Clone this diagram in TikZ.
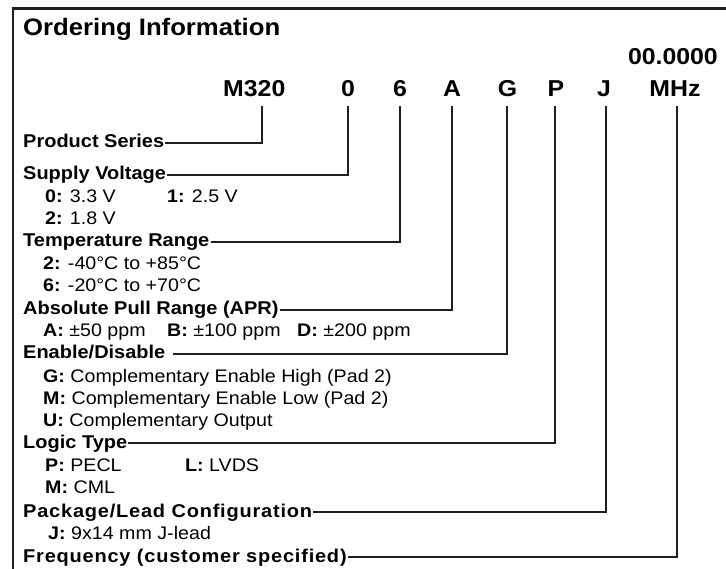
\documentclass[tikz,border=0pt]{standalone}
\usepackage{fontspec}
\setmainfont{Liberation Sans}[FakeStretch=1.08]
\begin{document}
\begin{tikzpicture}[x=1pt,y=-1pt,
  lbl/.style={font=\bfseries\fontsize{18.5}{20}\selectfont, anchor=base west, inner sep=0pt},
  widelbl/.style={lbl, font=\bfseries\fontsize{18.5}{20}\selectfont\addfontfeature{LetterSpace=4.3}},
  sub/.style={font=\fontsize{18.2}{20}\selectfont, anchor=base west, inner sep=0pt},
  code/.style={font=\bfseries\fontsize{23}{25}\selectfont, anchor=base, inner sep=0pt},
  conn/.style={line width=2.4pt, draw=black!88, line join=miter},
  frame/.style={line width=2.8pt, draw=black!88}]
\useasboundingbox (0,0) rectangle (726,569);
\draw[frame] (13,569) -- (13,8.5) -- (726,8.5);
\node[font=\bfseries\fontsize{23.8}{26}\selectfont, anchor=base west, inner sep=0pt] (title) at (23,36) {Ordering Information};
% code row
\node[code, anchor=base east] (freq) at (718,65) {00.0000};
\node[code, anchor=base west] (c1) at (223,97) {M320};
\node[code] (c2) at (348,97) {0};
\node[code] (c3) at (400,97) {6};
\node[code] (c4) at (452,97) {A};
\node[code] (c5) at (507.5,97) {G};
\node[code] (c6) at (556,97) {P};
\node[code] (c7) at (604,97) {J};
\node[code] (c8) at (675,97) {MHz};
\coordinate (t1) at (262,106);
\coordinate (t2) at (348,106);
\coordinate (t3) at (400,106);
\coordinate (t4) at (452,106);
\coordinate (t5) at (507,106);
\coordinate (t6) at (555,106);
\coordinate (t7) at (606,106);
\coordinate (t8) at (677,106);
% labels
\node[lbl] (l1) at (23,148) {Product Series};
\node[lbl] (l2) at (23,180) {Supply Voltage};
\node[sub] (s2a) at (45,203) {\textbf{0:} 3.3 V};
\node[sub] (s2b) at (167,203) {\textbf{1:} 2.5 V};
\node[sub] (s2c) at (45,225) {\textbf{2:} 1.8 V};
\node[lbl] (l3) at (23,247) {Temperature Range};
\node[sub] (s3a) at (43,270) {\textbf{2:} -40°C to +85°C};
\node[sub] (s3b) at (43,292) {\textbf{6:} -20°C to +70°C};
\node[lbl] (l4) at (23,315) {Absolute Pull Range (APR)};
\node[sub] (s4a) at (43,337) {\textbf{A:} ±50 ppm};
\node[sub] (s4b) at (167,337) {\textbf{B:} ±100 ppm};
\node[sub] (s4c) at (297,337) {\textbf{D:} ±200 ppm};
\node[lbl] (l5) at (23,359) {Enable/Disable};
\node[sub] (s5a) at (43,383) {\textbf{G:} Complementary Enable High (Pad 2)};
\node[sub] (s5b) at (43,404) {\textbf{M:} Complementary Enable Low (Pad 2)};
\node[sub] (s5c) at (43,426) {\textbf{U:} Complementary Output};
\node[lbl] (l6) at (23,448) {Logic Type};
\node[sub] (s6a) at (45,471) {\textbf{P:} PECL};
\node[sub] (s6b) at (185,471) {\textbf{L:} LVDS};
\node[sub] (s6c) at (45,493) {\textbf{M:} CML};
\node[widelbl] (l7) at (23,517) {Package/Lead Configuration};
\node[sub] (s7a) at (48,539) {\textbf{J:} 9x14 mm J-lead};
\node[widelbl] (l8) at (23,562) {Frequency (customer specified)};
% connectors
\draw[conn] ([xshift=1pt,yshift=5pt]l1.base east) -| (t1);
\draw[conn] ([xshift=1pt,yshift=5pt]l2.base east) -| (t2);
\draw[conn] ([xshift=1pt,yshift=5pt]l3.base east) -| (t3);
\draw[conn] ([xshift=1pt,yshift=5pt]l4.base east) -| (t4);
\draw[conn] ([xshift=7pt,yshift=5pt]l5.base east) -| (t5);
\draw[conn] ([xshift=1pt,yshift=5pt]l6.base east) -| (t6);
\draw[conn] ([xshift=1pt,yshift=5pt]l7.base east) -| (t7);
\draw[conn] ([xshift=1pt,yshift=5pt]l8.base east) -| (t8);
\end{tikzpicture}
\end{document}
